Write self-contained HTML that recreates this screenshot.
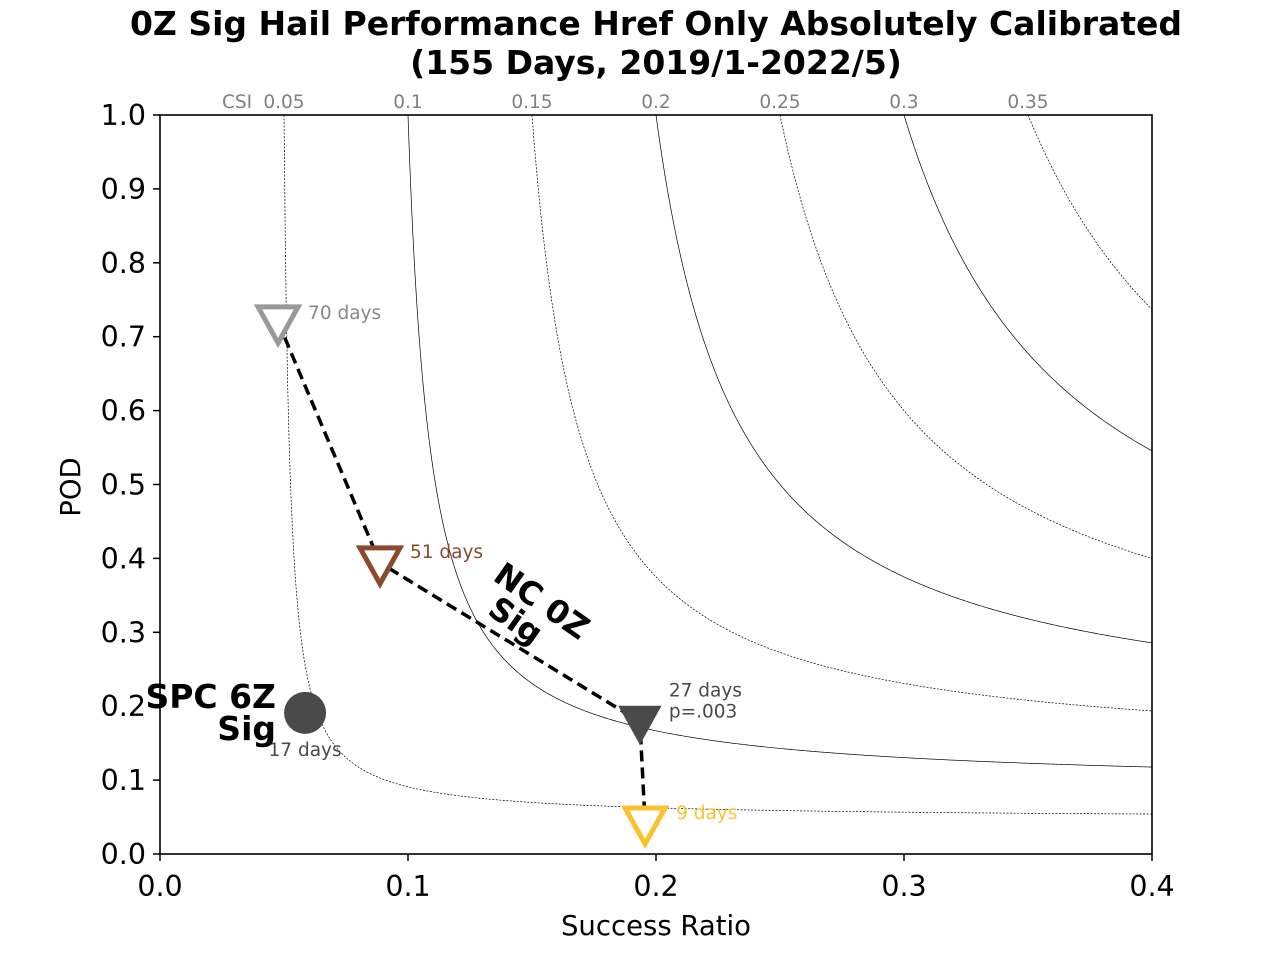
<!DOCTYPE html>
<html><head><meta charset="utf-8"><style>
body{margin:0;background:#fff;}
svg text{font-family:"DejaVu Sans","Liberation Sans",sans-serif;}
</style></head><body>
<svg id="c" width="1280" height="960" xmlns="http://www.w3.org/2000/svg">
<text x="656" y="35" font-size="33" font-weight="bold" text-anchor="middle">0Z Sig Hail Performance Href Only Absolutely Calibrated</text>
<text x="656" y="74" font-size="33" font-weight="bold" text-anchor="middle">(155 Days, 2019/1-2022/5)</text>
<g id="contours"></g>
<g id="axes"></g>
<g id="marks"></g>
<text x="656" y="935" font-size="27.5" text-anchor="middle">Success Ratio</text>
<text x="0" y="0" font-size="27.5" text-anchor="middle" transform="translate(80,487) rotate(-90)">POD</text>
<text x="276" y="708" font-size="33" font-weight="bold" text-anchor="end">SPC 6Z</text>
<text x="276" y="740" font-size="33" font-weight="bold" text-anchor="end">Sig</text>
<g transform="translate(532,615) rotate(35)">
<text x="0" y="-6" font-size="32" font-weight="bold" text-anchor="middle">NC 0Z</text>
<text x="-10" y="25" font-size="32" font-weight="bold" text-anchor="middle">Sig</text>
</g>
</svg>
<script>
const csiLevels=[0.05,0.1,0.15,0.2,0.25,0.3,0.35];
const xTicks=[0,0.1,0.2,0.3,0.4];
const yTicks=[0,0.1,0.2,0.3,0.4,0.5,0.6,0.7,0.8,0.9,1.0];
const pointNames=["70 days","51 days","27 days","9 days"];
const pointSR=[0.0476,0.0887,0.1935,0.1956];
const pointPOD=[0.72,0.394,0.179,0.042];
const pointColors=["#999999","#8b4a2b","#4a4a4a","#f9c22e"];
const spcSR=[0.0585];
const spcPOD=[0.191];
const NS="http://www.w3.org/2000/svg";
const X0=160,X1=1152,Y0=854,Y1=115;
const sx=v=>X0+(v/0.4)*(X1-X0);
const sy=v=>Y0-v*(Y0-Y1);
function mk(t,a,p){const e=document.createElementNS(NS,t);for(const k in a)e.setAttribute(k,a[k]);p.appendChild(e);return e;}
const cg=document.getElementById('contours');
csiLevels.forEach((c,i)=>{
 let d="";let started=false;
 for(let s=c;s<=0.4001;s+=0.0005){
  const pod=1/(1/c-1/s+1);
  if(pod>1.0001||pod<0)continue;
  d+=(started?"L":"M")+sx(s).toFixed(2)+","+sy(Math.min(pod,1)).toFixed(2);started=true;
 }
 const p=mk('path',{d:d,fill:'none',stroke:'#000','stroke-width':0.7,'stroke-dasharray':i%2===0?'2,1.5':'none'},cg);
 
 
 const t=mk('text',{x:sx(c),y:108,'font-size':18.5,fill:'#808080','text-anchor':'middle'},cg);
 t.textContent=String(c);
 
 
});
const ct=mk('text',{x:237,y:108,'font-size':18.5,fill:'#808080','text-anchor':'middle'},cg);ct.textContent="CSI";


const ag=document.getElementById('axes');
mk('rect',{x:X0,y:Y1,width:X1-X0,height:Y0-Y1,fill:'none',stroke:'#000','stroke-width':1.6},ag);
xTicks.forEach(v=>{mk('line',{x1:sx(v),x2:sx(v),y1:Y0,y2:Y0+7,stroke:'#000','stroke-width':1.5},ag);
 const t=mk('text',{x:sx(v),y:896,'font-size':28.5,'text-anchor':'middle'},ag);t.textContent=v.toFixed(1);
 
 });
yTicks.forEach(v=>{mk('line',{x1:X0-7,x2:X0,y1:sy(v),y2:sy(v),stroke:'#000','stroke-width':1.5},ag);
 const t=mk('text',{x:146,y:sy(v)+10,'font-size':28.5,'text-anchor':'end'},ag);t.textContent=v.toFixed(1);
 
 });
const mg=document.getElementById('marks');
let d="";pointSR.forEach((s,i)=>{d+=(i?"L":"M")+sx(s)+","+sy(pointPOD[i]);});
const ln=mk('path',{d:d,fill:'none',stroke:'#000','stroke-width':3.5,'stroke-dasharray':'11,6'},mg);


const offs=[[30,-10],[30,-12],[29,-32],[31,-11]];
pointSR.forEach((s,i)=>{
 const x=sx(s),y=sy(pointPOD[i]);
 const filled=i===2;
 const tri=mk('polygon',{points:`${x-20},${y-15} ${x+20},${y-15} ${x},${y+21}`,fill:filled?pointColors[i]:'#fff',stroke:pointColors[i],'stroke-width':filled?2:5,'stroke-linejoin':'miter'},mg);
 
 
 const t=mk('text',{x:x+offs[i][0],y:y+offs[i][1]+7,'font-size':18.5,fill:i===0?'#888':pointColors[i]},mg);
 t.textContent=pointNames[i];
 
 
 if(i===2){const t2=mk('text',{x:x+29,y:y-4,'font-size':18.5,fill:pointColors[i]},mg);t2.textContent="p=.003";
  
  }
});
spcSR.forEach((s,i)=>{
 const c=mk('circle',{cx:sx(s),cy:sy(spcPOD[i]),r:21,fill:'#4a4a4a'},mg);
 
 
 const t=mk('text',{x:sx(s),y:sy(spcPOD[i])+43,'font-size':18.5,fill:'#4a4a4a','text-anchor':'middle'},mg);
 t.textContent="17 days";
 
 
});
</script>
</body></html>
